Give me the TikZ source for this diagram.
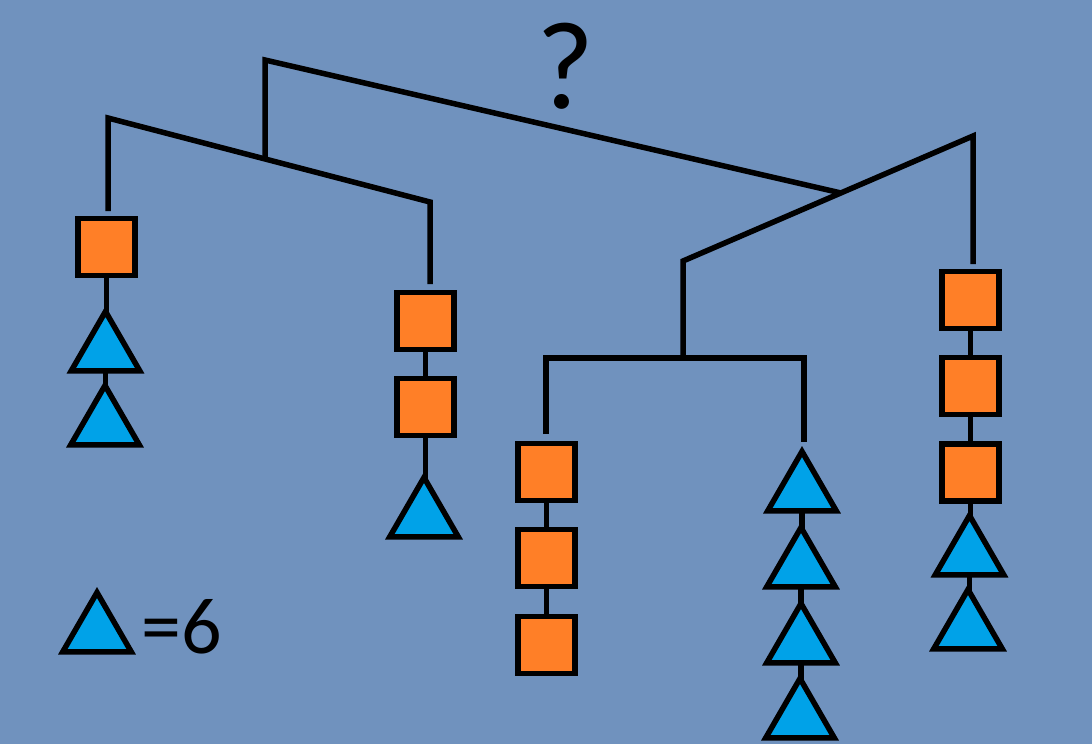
\documentclass[tikz,border=0pt]{standalone}
\usepackage{fontspec}
\setmainfont{Carlito}
\usetikzlibrary{shapes.geometric}
\definecolor{bgc}{RGB}{112,146,190}
\definecolor{orng}{RGB}{255,127,39}
\definecolor{trq}{RGB}{0,162,232}
\tikzset{
  sq/.style={draw=black, fill=orng, line width=5.5pt, minimum size=57pt, inner sep=0pt, line join=miter},
  tri/.style={draw=black, fill=trq, line width=5.5pt, regular polygon, regular polygon sides=3, minimum size=79pt, inner sep=0pt, line join=miter, miter limit=2.1},
  bar/.style={line width=5.5pt, line join=miter},
  link/.style={line width=5.5pt}
}
\begin{document}
\begin{tikzpicture}[x=1pt,y=-1pt]
\fill[bgc] (0,0) rectangle (1092,744);
\useasboundingbox (0,0) rectangle (1092,744);

% bars
\coordinate (tl) at (265,60);
\coordinate (tr) at (841,193);
\coordinate (tm) at (265,159);
\coordinate (l1) at (108,118);
\coordinate (l2) at (430,202);
\coordinate (l1e) at (108,211);
\coordinate (l2e) at (430,284);
\coordinate (r1) at (683,261);
\coordinate (r2) at (973,136);
\coordinate (r2e) at (973,264);
\coordinate (h0) at (683,358);
\coordinate (h1) at (546,358);
\coordinate (h2) at (804,358);
\coordinate (h1e) at (546,434);
\coordinate (h2e) at (804,442);

\draw[bar] (tm) -- (tl) -- (tr);
\draw[bar] (l1e) -- (l1) -- (l2) -- (l2e);
\draw[bar] (h0) -- (r1) -- (r2) -- (r2e);
\draw[bar] (h1e) -- (h1) -- (h2) -- (h2e);

% node positions
\coordinate (pa1) at (106.5,247);
\coordinate (pa2) at (105.5,351);
\coordinate (pa3) at (105,425);
\coordinate (pb1) at (425.5,321);
\coordinate (pb2) at (425.5,407);
\coordinate (pb3) at (424,517);
\coordinate (pc1) at (546.5,472);
\coordinate (pc2) at (546.5,558);
\coordinate (pc3) at (546.5,645);
\coordinate (pd1) at (802,491);
\coordinate (pd2) at (801,567);
\coordinate (pd3) at (801,643);
\coordinate (pd4) at (800,718);
\coordinate (pe1) at (970.5,300);
\coordinate (pe2) at (970.5,386);
\coordinate (pe3) at (970.5,472.5);
\coordinate (pe4) at (969.5,555);
\coordinate (pe5) at (968,629);

% links (drawn first, shapes on top)
\draw[link] (pa1) -- (pa1 |- pa2);
\draw[link] (pa2) -- (pa2 |- pa3);
\draw[link] (pb1) -- (pb1 |- pb2);
\draw[link] (pb2) -- (pb2 |- pb3);
\draw[link] (pc1) -- (pc1 |- pc2);
\draw[link] (pc2) -- (pc2 |- pc3);
\draw[link] (pd1) -- (pd1 |- pd2);
\draw[link] (pd2) -- (pd2 |- pd3);
\draw[link] (pd3) -- (pd3 |- pd4);
\draw[link] (pe1) -- (pe1 |- pe2);
\draw[link] (pe2) -- (pe2 |- pe3);
\draw[link] (pe3) -- (pe3 |- pe4);
\draw[link] (pe4) -- (pe4 |- pe5);

% chain 1
\node[sq] (a1) at (pa1) {};
\node[tri] (a2) at (pa2) {};
\node[tri] (a3) at (pa3) {};
% chain 2
\node[sq] (b1) at (pb1) {};
\node[sq] (b2) at (pb2) {};
\node[tri] (b3) at (pb3) {};
% chain 3
\node[sq] (c1) at (pc1) {};
\node[sq] (c2) at (pc2) {};
\node[sq] (c3) at (pc3) {};
% chain 4
\node[tri] (d1) at (pd1) {};
\node[tri] (d2) at (pd2) {};
\node[tri] (d3) at (pd3) {};
\node[tri] (d4) at (pd4) {};
% chain 5
\node[sq] (e1) at (pe1) {};
\node[sq] (e2) at (pe2) {};
\node[sq] (e3) at (pe3) {};
\node[tri] (e4) at (pe4) {};
\node[tri] (e5) at (pe5) {};

% question mark
\node[anchor=base, inner sep=0pt] (q) at (565,108) {\fontsize{125}{125}\selectfont ?};

% legend
\node[tri] (lt) at (97,632) {};
\node[anchor=base west, inner sep=0pt] (lv) at (141,653) {\fontsize{80}{80}\selectfont =6};
\end{tikzpicture}
\end{document}
